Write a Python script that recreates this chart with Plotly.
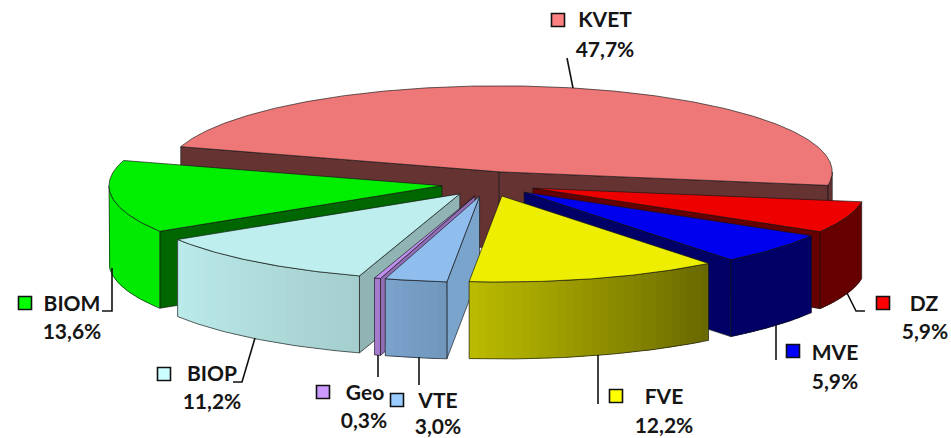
import numpy as np
import plotly.graph_objects as go

# --- data -------------------------------------------------------------
categories = ["KVET", "DZ", "MVE", "FVE", "VTE", "Geo", "BIOP", "BIOM"]
values = [47.7, 5.9, 5.9, 12.2, 3.0, 0.3, 11.2, 13.6]

# --- styles / layout ----------------------------------------------------
base_colors = {"KVET": (255, 128, 128), "DZ": (255, 0, 0), "MVE": (0, 0, 255), "FVE": (255, 255, 0),
               "VTE": (153, 204, 255), "Geo": (204, 153, 255), "BIOP": (204, 255, 255), "BIOM": (0, 255, 0)}
W, H = 951, 438
CX, CY, RX, RY, DEPTH = 488.6, 184.0, 333.0, 86.0, 77.0
EX, EY = 47.0, 12.5          # explosion distance on the projected ellipse
START = 197.0                # screen angle (degrees clockwise from east) of first slice
draw_order = ["KVET", "BIOM", "DZ", "MVE", "BIOP", "Geo", "VTE", "FVE"]

name_pos = {"KVET": (605, 22), "DZ": (924, 306), "MVE": (835, 355), "FVE": (664, 399),
            "VTE": (438, 403), "Geo": (365, 395), "BIOP": (212, 376), "BIOM": (72, 306)}
pct_pos = {"KVET": (605, 52), "DZ": (925, 334), "MVE": (835, 384), "FVE": (664, 428),
           "VTE": (438, 429), "Geo": (364, 423), "BIOP": (212, 404), "BIOM": (72, 334)}
key_pos = {"KVET": (558, 20), "DZ": (883, 303), "MVE": (793, 351), "FVE": (616, 396),
           "VTE": (397, 400), "Geo": (323, 392), "BIOP": (164, 374), "BIOM": (25, 303)}
leaders = {"KVET": [(567, 58), (573, 88)], "DZ": [(847, 293), (856, 311), (865, 311)],
           "MVE": [(776, 325), (776, 360)], "FVE": [(598, 355), (598, 404)],
           "VTE": [(419, 357), (419, 385)], "Geo": [(378, 355), (378, 377)],
           "BIOP": [(255, 338), (242, 382), (233, 382)], "BIOM": [(112, 268), (112, 311), (102, 311)]}

EDGE = "rgba(20,20,20,0.65)"
FONT = "Lato"


def rgb(col, f):
    return "rgb(%d,%d,%d)" % tuple(int(round(c * f)) for c in col)


def shade_front(a):
    """Brightness of the outer wall as a function of the screen angle."""
    return float(np.interp(a, [0, 51, 95, 108, 148, 200], [0.4, 0.4, 0.73, 0.81, 0.92, 0.93]))


def shade_side(a):
    return float(np.interp(a % 360, [95, 107, 148], [0.81, 0.71, 0.4]))


fig = go.Figure()


def poly(xs, ys, fill, line=None, width=1.0):
    fig.add_trace(go.Scatter(x=list(xs), y=list(ys), mode="lines", fill="toself", fillcolor=fill,
                             line=dict(color=line or fill, width=width), hoverinfo="skip", showlegend=False))


total = sum(values)
spans = {}
a = START
for c, v in zip(categories, values):
    spans[c] = (a, a + v / total * 360.0)
    a = spans[c][1]


def pt(ax, ay, ang, dz=0.0):
    r = np.radians(ang)
    return ax + RX * np.cos(r), ay + RY * np.sin(r) + dz


for c in draw_order:
    a0, a1 = spans[c]
    mid = np.radians((a0 + a1) / 2)
    ax, ay = CX + EX * np.cos(mid), CY + EY * np.sin(mid)
    col = base_colors[c]

    # side faces
    for edge, visible, sh in ((a0, np.cos(np.radians(a0)) < 0, shade_side(a0)),
                              (a1, np.cos(np.radians(a1)) > 0, 0.4)):
        if visible:
            ex, ey = pt(ax, ay, edge)
            poly([ax, ex, ex, ax, ax], [ay, ey, ey + DEPTH, ay + DEPTH, ay], rgb(col, sh), EDGE)

    # outer wall (only the part of the arc that faces the viewer)
    lo = max(a0 % 360 if (a0 % 360) < 180 else a0 - 360, 0.0)
    hi = min(a1 if a1 < 360 else a1 - 360, 180.0)
    if c == "KVET":
        lo, hi = 0.0, a1 - 360.0
    if hi > lo:
        steps = max(int((hi - lo) / 1.5), 1)
        angs = np.linspace(lo, hi, steps + 1)
        for i in range(steps):
            s0, s1 = angs[i], angs[min(i + 2, steps)]     # each strip runs under the next one
            sub = np.linspace(s0, s1, 5)
            x0, y0 = pt(ax, ay, sub)
            fc = rgb(col, 0.4 if c == "KVET" else shade_front((angs[i] + angs[i + 1]) / 2))
            fig.add_trace(go.Scatter(x=list(x0) + list(x0[::-1]) + [x0[0]],
                                     y=list(y0) + list((y0 + DEPTH)[::-1]) + [y0[0]],
                                     mode="none", fill="toself", fillcolor=fc,
                                     hoverinfo="skip", showlegend=False))
        fine = np.linspace(lo, hi, 2 * steps + 1)
        tx, ty = pt(ax, ay, fine)
        fig.add_trace(go.Scatter(x=list(tx) + list(tx[::-1]) + [tx[0]],
                                 y=list(ty) + list((ty + DEPTH)[::-1]) + [ty[0]],
                                 mode="lines", line=dict(color=EDGE, width=1),
                                 hoverinfo="skip", showlegend=False))

    # top face
    arc = np.linspace(a0, a1, max(int(a1 - a0) * 2, 2) + 1)
    tx, ty = pt(ax, ay, arc)
    poly([ax] + list(tx) + [ax], [ay] + list(ty) + [ay], rgb(col, 0.933), EDGE)

# leader lines
for c in categories:
    p = leaders[c]
    fig.add_trace(go.Scatter(x=[q[0] for q in p], y=[q[1] for q in p], mode="lines",
                             line=dict(color="#111111", width=1.6), hoverinfo="skip", showlegend=False))

# legend keys
fig.add_trace(go.Scatter(x=[key_pos[c][0] for c in categories], y=[key_pos[c][1] for c in categories],
                         mode="markers", hoverinfo="skip", showlegend=False,
                         marker=dict(symbol="square", size=13,
                                     color=[rgb(base_colors[c], 1) for c in categories],
                                     line=dict(color="#111111", width=1.6))))

# labels
fig.add_trace(go.Scatter(x=[name_pos[c][0] for c in categories], y=[name_pos[c][1] for c in categories],
                         mode="text", text=categories, textposition="middle center",
                         textfont=dict(family=FONT, size=21, color="#151515", weight="bold"),
                         hoverinfo="skip", showlegend=False))
fig.add_trace(go.Scatter(x=[pct_pos[c][0] for c in categories], y=[pct_pos[c][1] for c in categories],
                         mode="text", text=[f"{v:.1f}%".replace(".", ",") for v in values],
                         textposition="middle center",
                         textfont=dict(family=FONT, size=21, color="#151515", weight="bold"),
                         hoverinfo="skip", showlegend=False))

fig.update_layout(width=W, height=H, margin=dict(l=0, r=0, t=0, b=0), paper_bgcolor="white",
                  plot_bgcolor="white", showlegend=False,
                  xaxis=dict(range=[0, W], visible=False, fixedrange=True),
                  yaxis=dict(range=[H, 0], visible=False, fixedrange=True))
fig.write_html("out.html", config={"displayModeBar": False},
               post_script="document.body.style.margin='0';document.body.style.overflow='hidden';")
